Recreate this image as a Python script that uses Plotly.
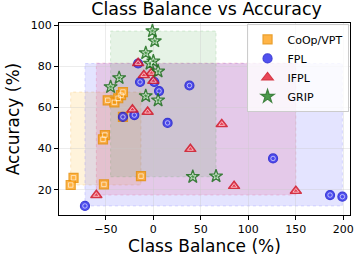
import plotly.graph_objects as go

# ---- data ----
coop_x = [-48, -41, -37, -34, -32, -32, -51, -53, -84, -87, -52, -13]
coop_y = [63.5, 62.5, 64.5, 66.0, 67.5, 55.4, 46.6, 44.5, 25.8, 22.3, 22.6, 26.6]

fpl_x = [-16, -14, 1, 6, 38, -32, -20, 15, 126, 199, 186, -72]
fpl_y = [81.4, 72.4, 72.4, 68.0, 70.7, 55.4, 56.3, 52.5, 35.2, 16.6, 17.4, 12.1]

ifpl_x = [-16, -10, -2, 0, -22, -6, 72, 39, 85, 150, -60]
ifpl_y = [81.6, 75.7, 76.8, 72.9, 59.0, 57.9, 51.9, 39.8, 21.8, 19.4, 17.4]

grip_x = [-1, 1.5, -8, 0, -3.5, 5, -36, -45, -8, 5, 41.5, 66]
grip_y = [97.2, 92.3, 86.5, 82.5, 81.4, 77.6, 74.4, 70.0, 65.6, 63.5, 26.3, 26.6]

series = [
    ("CoOp/VPT", coop_x, coop_y, "square", "#FFA726", "#E8900A", "rgba(255,200,90,0.22)", "rgba(240,170,60,0.25)", 9),
    ("FPL", fpl_x, fpl_y, "circle", "#3333EE", "#2020D0", "rgba(90,90,255,0.16)", "rgba(90,90,255,0.2)", 9),
    ("IFPL", ifpl_x, ifpl_y, "triangle-up", "#E8283C", "#D01828", "rgba(230,60,120,0.16)", "rgba(230,60,120,0.2)", 10),
    ("GRIP", grip_x, grip_y, "star", "#2E8B2E", "#1F6F1F", "rgba(60,160,60,0.13)", "rgba(60,160,60,0.18)", 10),
]

x_ticks = [-100, -50, 0, 50, 100, 150, 200]
y_ticks = [20, 40, 60, 80, 100]

fig = go.Figure()

# bounding boxes of each method
for name, xs, ys, sym, col, edge, fill, lcol, sz in series:
    fig.add_shape(type="rect", x0=min(xs), x1=max(xs), y0=min(ys), y1=max(ys),
                  xref="x", yref="y", fillcolor=fill,
                  line=dict(color=lcol, width=1, dash="dot"),
                  layer="below")

for name, xs, ys, sym, col, edge, fill, lcol, sz in series:
    fig.add_trace(go.Scatter(
        x=xs, y=ys, mode="markers", name=name,
        marker=dict(symbol=sym, size=sz, color=col, opacity=0.85,
                    line=dict(color=edge, width=1.2)),
    ))
    fig.add_trace(go.Scatter(
        x=xs, y=ys, mode="markers", showlegend=False, hoverinfo="skip",
        marker=dict(symbol=sym + "-open", size=sz * 0.5, color="rgba(255,255,255,0.75)",
                    line=dict(color="rgba(255,255,255,0.75)", width=0.8)),
    ))

font = "DejaVu Sans"
axis_common = dict(ticks="outside", ticklen=4, tickcolor="black", showline=True,
                   linecolor="black", linewidth=1, mirror=True, showgrid=True,
                   gridcolor="rgba(200,200,200,0.35)", zeroline=False,
                   tickfont=dict(size=11), automargin=False)
fig.update_layout(
    width=358, height=260,
    margin=dict(l=59, r=8, t=23, b=45),
    paper_bgcolor="white", plot_bgcolor="white",
    font=dict(family=font, size=11, color="black"),
    title=dict(text="Class Balance vs Accuracy", x=0.577, xanchor="center",
               y=0.99, yanchor="top", font=dict(size=17.4)),
    xaxis=dict(range=[-99.3, 207], tickvals=x_ticks,
               title=dict(text="Class Balance (%)", font=dict(size=17), standoff=4),
               **axis_common),
    yaxis=dict(range=[7.7, 101.1], tickvals=y_ticks,
               title=dict(text="Accuracy (%)", font=dict(size=17), standoff=6),
               **axis_common),
    legend=dict(x=0.995, y=0.995, xanchor="right", yanchor="top",
                bgcolor="rgba(255,255,255,0.8)", bordercolor="#cccccc", borderwidth=1,
                font=dict(size=11), itemsizing="trace", tracegroupgap=0),
    showlegend=True,
)

fig.write_html("out.html", config={"displayModeBar": False},
               post_script="document.body.style.margin='0';")
